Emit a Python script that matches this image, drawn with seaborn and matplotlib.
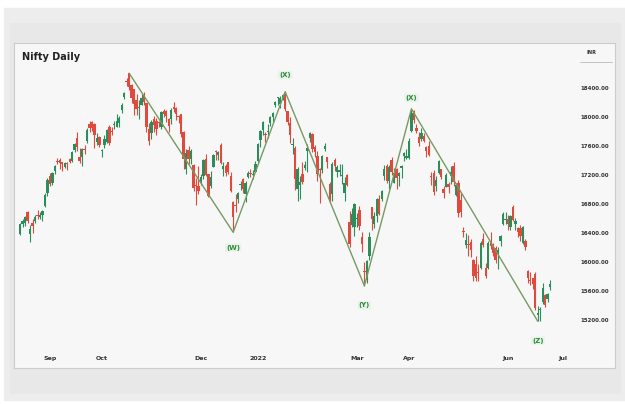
import numpy as np
import pandas as pd
import seaborn as sns
import matplotlib.pyplot as plt
from matplotlib.patches import Rectangle

# =====================
# Nifty daily OHLC, 13 Aug 2021 - 24 Jun 2022
# =====================
opens = [
    16385, 16518, 16545, 16691, 16382, 16545, 16561, 16654, 16627, 16642, 16775, 16947,  # Aug
    17185, 17095, 17262, 17399, 17401, 17375, 17312, 17363, 17420, 17387, 17540, 17710,
    17443, 17450, 17563, 17670, 17898, 17932, 17906, 17657, 17718,  # Sep
    17531, 17616, 17661, 17862, 17810, 17887, 17867, 17916, 18097, 18273, 18500, 18602,
    18439, 18382, 18230, 18125, 18170, 18295, 18187, 17839,  # Oct
    17784, 17970, 17947, 17935, 17867, 18085, 18085, 17967, 17977, 18141, 18127, 18013,
    18041, 17796, 17281, 17550, 17417, 17339, 17055, 17051,  # Nov
    17104, 17183, 17424, 17209, 17044, 17315, 17524, 17476, 17619, 17283, 17324, 17374,
    17183, 16824, 16773, 16865, 17067, 17149, 16938, 17177, 17220, 17201, 17244,  # Dec
    17388, 17681, 17820, 17768, 17798, 17913, 17997, 18170, 18257, 18186, 18235, 18337,
    18085, 17921, 17613, 17575, 17002, 17062, 17208, 17301,  # Jan
    17529, 17706, 17767, 17591, 17456, 17279, 17272, 17554, 17451, 17076, 16933, 17408,
    17241, 17236, 17192, 16947, 17195, 16549, 16516, 16481,  # Feb
    16594, 16723, 16340, 15868, 15747, 16078, 16757, 16528, 16633, 16876, 16876, 17190,
    17329, 17120, 17405, 17094, 17289, 17181, 17297, 17468, 17436,  # Mar
    17437, 17810, 18081, 17842, 17723, 17698, 17740, 17584, 17599, 17183, 17234, 17051,
    17234, 17281, 17009, 17040, 17073, 17189, 17330,  # Apr
    16924, 17096, 16854, 16415, 16228, 16249, 16271, 16021, 15977, 15845, 15912, 16318,
    15917, 15918, 16290, 16225, 16196, 16105, 16296, 16528, 16578,  # May
    16594, 16481, 16761, 16530, 16469, 16474, 16264, 16284, 15877, 15749, 15779, 15833,
    15272, 15335, 15455, 15545, 15491, 15659,  # Jun
]
highs = [
    16543, 16589, 16628, 16701, 16509, 16592, 16647, 16712, 16683, 16722, 16951, 17153,
    17225, 17245, 17340, 17429, 17436, 17383, 17379, 17378, 17438, 17532, 17645, 17792,
    17578, 17578, 17610, 17843, 17947, 17943, 17912, 17781, 17743,
    17557, 17750, 17833, 17884, 17857, 17941, 18041, 18008, 18197, 18350, 18543, 18604,
    18458, 18384, 18315, 18241, 18311, 18342, 18190, 17915,
    17954, 18013, 17988, 17947, 18087, 18112, 18091, 17988, 18123, 18210, 18132, 18022,
    18044, 17806, 17553, 17601, 17564, 17355, 17160, 17324,
    17213, 17420, 17490, 17216, 17252, 17484, 17543, 17535, 17639, 17376, 17351, 17379,
    17237, 16840, 16937, 16971, 17119, 17155, 17112, 17250, 17285, 17264, 17400,
    17647, 17827, 17944, 17797, 17905, 18017, 18071, 18227, 18272, 18287, 18322, 18350,
    18089, 18006, 17707, 17599, 17309, 17183, 17373, 17399,
    17622, 17795, 17781, 17617, 17536, 17294, 17477, 17639, 17454, 17099, 17375, 17440,
    17345, 17352, 17352, 17177, 17220, 16706, 16748, 16815,
    16677, 16768, 16411, 16002, 16028, 16418, 16757, 16694, 16888, 16927, 16987, 17344,
    17353, 17334, 17442, 17291, 17295, 17235, 17343, 17522, 17559,
    17704, 18114, 18095, 17901, 17787, 17842, 17779, 17597, 17663, 17237, 17275, 17186,
    17414, 17287, 17055, 17223, 17110, 17322, 17378,
    17092, 17132, 16946, 16484, 16404, 16371, 16319, 16041, 16084, 15977, 16284, 16400,
    15984, 16284, 16415, 16262, 16223, 16204, 16370, 16695, 16691,
    16649, 16646, 16793, 16610, 16487, 16514, 16492, 16324, 15886, 15859, 15783, 15863,
    15400, 15382, 15707, 15565, 15577, 15749,
]
lows = [
    16376, 16480, 16495, 16535, 16270, 16395, 16545, 16589, 16593, 16565, 16765, 16915,
    17055, 17059, 17215, 17346, 17287, 17254, 17302, 17269, 17367, 17386, 17519, 17537,
    17361, 17326, 17486, 17646, 17799, 17802, 17576, 17608, 17585,
    17452, 17578, 17640, 17613, 17757, 17840, 17864, 17865, 18051, 18248, 18426, 18377,
    18196, 18033, 18034, 17968, 18162, 18167, 17799, 17613,
    17697, 17799, 17757, 17864, 17836, 17994, 17927, 17798, 17905, 18071, 17958, 17920,
    17728, 17280, 17217, 17355, 17354, 16985, 16782, 16932,
    17064, 17149, 17181, 16891, 17016, 17308, 17410, 17406, 17355, 17192, 17192, 17211,
    16966, 16410, 16688, 16819, 16998, 16954, 16834, 17161, 17167, 17146, 17238,
    17383, 17593, 17749, 17655, 17704, 17879, 17931, 18142, 18170, 18120, 18228, 18085,
    17884, 17648, 17485, 16998, 16837, 16866, 17077, 17264,
    17244, 17654, 17511, 17446, 17119, 16809, 17229, 17538, 17303, 16809, 16840, 17257,
    17178, 17189, 17070, 16843, 17044, 16203, 16478, 16357,
    16478, 16442, 16133, 15671, 15711, 16029, 16447, 16470, 16555, 16649, 16837, 17135,
    17096, 17006, 17199, 17092, 17004, 17052, 17155, 17388, 17422,
    17422, 17791, 17921, 17779, 17600, 17664, 17650, 17443, 17457, 17067, 16925, 16978,
    17215, 17148, 16889, 17035, 16958, 17072, 17054,
    16917, 16623, 16623, 16341, 16197, 16085, 16066, 15736, 15740, 15739, 15900, 16202,
    15775, 15903, 16186, 16078, 15990, 15904, 16222, 16506, 16521,
    16438, 16443, 16567, 16444, 16347, 16293, 16244, 16172, 15711, 15678, 15627, 15335,
    15183, 15192, 15419, 15385, 15445, 15609,
]
closes = [
    16529, 16563, 16614, 16569, 16450, 16496, 16625, 16634, 16636, 16705, 16931, 17132,
    17076, 17234, 17324, 17377, 17362, 17353, 17369, 17355, 17380, 17519, 17629, 17585,
    17396, 17562, 17546, 17823, 17853, 17855, 17748, 17711, 17618,
    17532, 17691, 17822, 17646, 17790, 17895, 17946, 17992, 18161, 18338, 18477, 18418,
    18267, 18178, 18115, 18125, 18268, 18210, 17857, 17672,
    17929, 17889, 17829, 17916, 18068, 18044, 18017, 17873, 18102, 18109, 18044, 17999,
    17765, 17417, 17503, 17416, 17537, 17027, 17054, 16983,
    17167, 17401, 17197, 16913, 17177, 17470, 17517, 17512, 17369, 17325, 17222, 17248,
    16985, 16615, 16771, 16955, 17073, 17004, 17086, 17233, 17214, 17204, 17354,
    17625, 17805, 17925, 17746, 17812, 18003, 18055, 18212, 18257, 18256, 18308, 18113,
    17938, 17757, 17617, 17149, 17278, 17110, 17102, 17340,
    17576, 17780, 17560, 17516, 17214, 17266, 17464, 17606, 17375, 16843, 17352, 17322,
    17304, 17276, 17207, 17092, 17063, 16248, 16658, 16794,
    16606, 16498, 16245, 15863, 16013, 16345, 16594, 16630, 16871, 16663, 16975, 17287,
    17118, 17316, 17246, 17223, 17153, 17222, 17326, 17498, 17465,
    17670, 18053, 17957, 17807, 17640, 17784, 17675, 17530, 17476, 17174, 16959, 17136,
    17392, 17172, 16954, 17200, 17038, 17245, 17102,
    17069, 16678, 16683, 16411, 16301, 16240, 16167, 15808, 15782, 15842, 16259, 16240,
    15809, 16266, 16215, 16125, 16025, 16170, 16352, 16661, 16585,
    16523, 16628, 16584, 16570, 16416, 16356, 16478, 16202, 15774, 15732, 15692, 15360,
    15294, 15350, 15638, 15413, 15557, 15699,
]

# NSE trading calendar (weekdays minus exchange holidays)
holidays = ["2021-08-19", "2021-09-10", "2021-10-15", "2021-11-05", "2021-11-19",
            "2022-01-26", "2022-03-01", "2022-03-18", "2022-04-14", "2022-04-15",
            "2022-05-03"]
calendar = pd.bdate_range("2021-08-13", "2022-07-01")
calendar = calendar[~calendar.isin(pd.to_datetime(holidays))]

month_starts = ["2021-09-01", "2021-10-01", "2021-12-01", "2022-01-01",
                "2022-03-01", "2022-04-01", "2022-06-01", "2022-07-01"]
month_labels = ["Sep", "Oct", "Dec", "2022", "Mar", "Apr", "Jun", "Jul"]

# Elliott wave pivots (W-X-Y-X-Z)
pivot_dates = ["2021-10-19", "2021-12-20", "2022-01-18", "2022-03-07", "2022-04-04", "2022-06-17"]
pivot_prices = [18604, 16410, 18350, 15671, 18114, 15183]
wave_labels = ["", "(W)", "(X)", "(Y)", "(X)", "(Z)"]

df = pd.DataFrame({"date": calendar[:len(closes)], "open": opens, "high": highs,
                   "low": lows, "close": closes})
df["idx"] = np.arange(len(df))
df["up"] = df["close"] >= df["open"]

piv = pd.DataFrame({"idx": calendar.searchsorted(pd.to_datetime(pivot_dates)),
                    "price": pivot_prices, "label": wave_labels})

# =====================
# Figure
# =====================
sns.set_theme(style="white")
plt.rcParams["font.family"] = ["DejaVu Sans"]

fig = plt.figure(figsize=(6.25, 4.05), dpi=100, facecolor="white")
fig.patches.append(Rectangle((4 / 625, 5 / 405), 621 / 625, 392 / 405,
                             transform=fig.transFigure, color="#ededed", zorder=-2))
fig.patches.append(Rectangle((10 / 625, 12 / 405), 610 / 625, 370 / 405,
                             transform=fig.transFigure, color="#e8e8e8", zorder=-1))

ax = fig.add_axes([14 / 625, 37 / 405, 601 / 625, 325 / 405])
ax.set_facecolor("#f7f7f7")
for s in ax.spines.values():
    s.set_color("#cccccc")
    s.set_linewidth(0.8)

green, red = "#2b8c5c", "#e04a3c"
colors = np.where(df["up"], green, red)
ax.vlines(df["idx"], df["low"], df["high"], colors=colors, linewidth=0.8, zorder=2)
body = (df["close"] - df["open"]).abs().clip(lower=15)
ax.bar(df["idx"], body, bottom=df[["open", "close"]].min(axis=1), width=0.95,
       color=colors, linewidth=0, zorder=3)

sns.lineplot(data=piv, x="idx", y="price", sort=False, color="#789a62",
             linewidth=1.0, ax=ax, zorder=4)

offsets = [0, -11, 12, -14, 8, -14]
for (_, r), dy in zip(piv.iterrows(), offsets):
    if r["label"]:
        ax.annotate(r["label"], xy=(r["idx"], r["price"]), xytext=(0, dy),
                    textcoords="offset points", ha="center", va="center",
                    fontsize=5, color="#2f8a3c", fontweight="bold",
                    bbox=dict(boxstyle="round,pad=0.15", fc="#e6f3e6", ec="none"))

ax.set_xlim(-2.5, 240.2)
ax.set_ylim(14538, 19021)
ax.set_xlabel("")
ax.set_ylabel("")

ax.set_xticks(calendar.searchsorted(pd.to_datetime(month_starts)))
ax.set_xticklabels(month_labels)
ax.tick_params(axis="x", length=0, pad=-8.3, labelsize=4.5, labelcolor="#333333")
for t in ax.get_xticklabels():
    t.set_fontweight("bold")

ax.yaxis.tick_right()
ax.set_yticks(np.arange(15200, 18401, 400))
ax.set_yticklabels([f"{v:.2f}" for v in np.arange(15200, 18401, 400)])
ax.tick_params(axis="y", length=0, pad=-25, labelsize=4, labelcolor="#333333")
for t in ax.get_yticklabels():
    t.set_fontweight("bold")

ax.text(0.013, 0.957, "Nifty Daily", transform=ax.transAxes, fontsize=7,
        fontweight="bold", color="#222222", va="center", ha="left")
ax.text(0.952, 0.972, "INR", transform=ax.transAxes, fontsize=3.5,
        fontweight="bold", color="#333333", va="center", ha="left")
ax.plot([0.942, 0.995], [0.9415, 0.9415], transform=ax.transAxes,
        color="#bbbbbb", linewidth=0.6)

fig.savefig("out.png", dpi=100)
